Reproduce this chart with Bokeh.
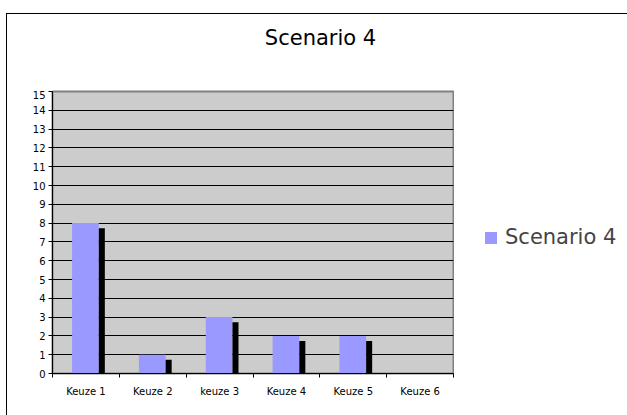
from bokeh.plotting import figure
from bokeh.layouts import column, row
from bokeh.models import (ColumnDataSource, Range1d, LinearAxis, FixedTicker,
                          Legend, LegendItem, Label)
from bokeh.transform import dodge
from bokeh.embed import file_html
from bokeh.resources import INLINE

# Chart data
categories = ["Keuze 1", "Keuze 2", "keuze 3", "Keuze 4", "Keuze 5", "Keuze 6"]
values = [8, 1, 3, 2, 2, 0]
y_ticks = list(range(0, 16))
series_name = "Scenario 4"
chart_title = "Scenario 4"

FONT = "DejaVu Sans"
BAR_COLOR = "#9999ff"
DEPTH = 0.27  # drop of the dark side face, in value units

n = len(categories)
centers = [i + 0.5 for i in range(n)]
side_top = [max(v - DEPTH, 0) for v in values]
src = ColumnDataSource(dict(pos=centers, val=values, side=side_top))


def bare(fig):
    """Strip grids and outline from a helper figure."""
    fig.outline_line_color = None
    fig.grid.grid_line_color = None
    fig.title.visible = False
    return fig


# --- Title strip ---------------------------------------------------------
head = bare(figure(width=620, height=76, x_range=Range1d(0, 620), y_range=Range1d(0, 76),
                   output_backend="svg", toolbar_location=None,
                   x_axis_location=None, y_axis_location=None, min_border=0,
                   min_border_left=0, min_border_right=0, min_border_top=0,
                   min_border_bottom=0))
head.add_layout(Label(x=313, y=53, text=chart_title, text_align="center",
                      text_baseline="middle", text_font=FONT,
                      text_font_size="21px", text_color="black"))

# --- Main bar chart ------------------------------------------------------
p = figure(width=447, height=325, x_range=Range1d(0, n), y_range=Range1d(0, 15),
           output_backend="svg", toolbar_location=None, x_axis_location=None,
           min_border_left=45, min_border_right=1, min_border_top=1,
           min_border_bottom=42, background_fill_color="#cccccc",
           border_fill_color="white")
p.title.visible = False

yax = p.yaxis[0]
yax.ticker = FixedTicker(ticks=y_ticks)
yax.axis_line_color = "black"
yax.major_tick_out = 4
yax.major_tick_in = 0
yax.minor_tick_line_color = None
yax.major_label_text_font = FONT
yax.major_label_text_font_size = "10px"
yax.major_label_text_color = "black"
yax.major_label_standoff = 3

p.xgrid.grid_line_color = None
p.ygrid.ticker = FixedTicker(ticks=y_ticks)
p.ygrid.grid_line_color = "black"
p.ygrid.grid_line_width = 1
p.outline_line_color = "#808080"
p.outline_line_width = 2

# tick marks on category boundaries
edge_axis = LinearAxis(ticker=FixedTicker(ticks=list(range(n + 1))),
                       axis_line_color="black", major_tick_out=4, major_tick_in=0,
                       minor_tick_line_color=None, major_label_text_alpha=0,
                       major_label_text_font_size="1px",
                       major_label_standoff=0)
p.add_layout(edge_axis, "below")

# category labels under each bar group
cat_axis = LinearAxis(ticker=FixedTicker(ticks=centers),
                      major_label_overrides={c: name for c, name in zip(centers, categories)},
                      axis_line_color=None, major_tick_line_color=None,
                      minor_tick_line_color=None,
                      major_label_text_font=FONT,
                      major_label_text_font_size="10px",
                      major_label_text_color="black",
                      major_label_standoff=2)
p.add_layout(cat_axis, "below")

# light front face with a dark side face
p.vbar(x=dodge("pos", -0.007), top="val", width=0.4,
       source=src, fill_color=BAR_COLOR, line_color=None)
p.vbar(x=dodge("pos", 0.238), top="side", width=0.09,
       source=src, fill_color="black", line_color=None)

# --- Legend panel --------------------------------------------------------
side = bare(figure(width=173, height=325, x_range=Range1d(0, n), y_range=Range1d(0, 1),
                   output_backend="svg", toolbar_location=None,
                   x_axis_location=None, y_axis_location=None, min_border=0,
                   min_border_left=0, min_border_right=0, min_border_top=0,
                   min_border_bottom=0))
# flat (zero-height) bars that only carry the legend swatch style
key = side.vbar(x="pos", top=0, bottom=0, width=0.4, source=src,
                fill_color=BAR_COLOR, line_color=None)
legend = Legend(items=[LegendItem(label=series_name, renderers=[key])],
                location=(29, 124), orientation="vertical",
                border_line_color=None, background_fill_alpha=0,
                padding=0, margin=0, glyph_width=15, glyph_height=15,
                label_standoff=7, label_text_font=FONT,
                label_text_font_size="21px", label_height=24)
side.add_layout(legend, "center")

# Chart box: page offset with its left and top edges drawn
layout = column(head, row(p, side, spacing=0), spacing=0, margin=(13, 0, 0, 6),
                styles={"border-left": "1px solid black", "border-top": "1px solid black"})

open("out.html", "w").write(file_html(layout, INLINE))
